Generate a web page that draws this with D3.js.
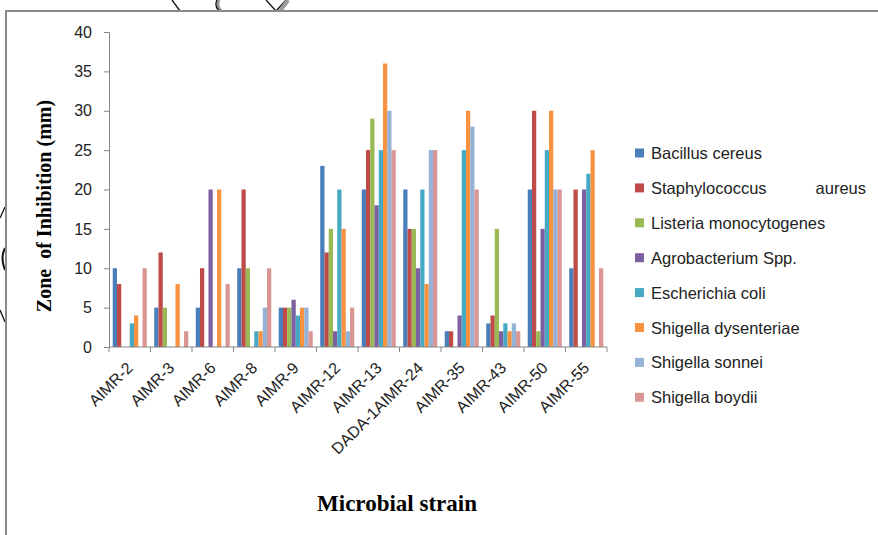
<!DOCTYPE html>
<html>
<head>
<meta charset="utf-8">
<script src="https://cdn.jsdelivr.net/npm/d3@7"></script>
<style>
  body { margin: 0; background: #fff; }
  .tick text { font-family: "Liberation Sans", Arial, sans-serif; font-size: 16px; fill: #222; }
</style>
</head>
<body>
<div id="chart"></div>
<script>
// strains along the x axis
var strains = ["AIMR-2", "AIMR-3", "AIMR-6", "AIMR-8", "AIMR-9", "AIMR-12", "AIMR-13",
               "DADA-1AIMR-24", "AIMR-35", "AIMR-43", "AIMR-50", "AIMR-55"];

// test organisms (legend order)
var organisms = ["Bacillus cereus", "Staphylococcus aureus", "Listeria monocytogenes",
                 "Agrobacterium Spp.", "Escherichia coli", "Shigella dysenteriae",
                 "Shigella sonnei", "Shigella boydii"];

// zone of inhibition (mm), one array per organism, in strain order
var bacillus   = [10, 5, 5, 10, 5, 23, 20, 20, 2, 3, 20, 10];
var staph      = [8, 12, 10, 20, 5, 12, 25, 15, 2, 4, 30, 20];
var listeria   = [0, 5, 0, 10, 5, 15, 29, 15, 0, 15, 2, 0];
var agro       = [0, 0, 20, 0, 6, 2, 18, 10, 4, 2, 15, 20];
var ecoli      = [3, 0, 0, 2, 4, 20, 25, 20, 25, 3, 25, 22];
var dysenteriae = [4, 8, 20, 2, 5, 15, 36, 8, 30, 2, 30, 25];
var sonnei     = [0, 0, 0, 5, 5, 2, 30, 25, 28, 3, 20, 0];
var boydii     = [10, 2, 8, 10, 2, 5, 25, 25, 20, 2, 20, 10];

var yTicks = [0, 5, 10, 15, 20, 25, 30, 35, 40];

var series = [bacillus, staph, listeria, agro, ecoli, dysenteriae, sonnei, boydii];
var colors = ["#4A7EBB", "#BE4B48", "#98B954", "#7D60A0", "#46AAC5", "#F69240", "#95B3D7", "#D99694"];

var svgWidth = 878, svgHeight = 535;
var plot = { left: 109, right: 607, top: 32, bottom: 347 };

var svg = d3.select("#chart").append("svg")
    .attr("width", svgWidth)
    .attr("height", svgHeight);

// bits of the background image poking out round the frame
var deco = svg.append("g").attr("fill", "none").attr("stroke", "#111").attr("stroke-width", 1.3);
deco.append("path").attr("d", "M172,0 L180,11");
deco.append("path").attr("d", "M219,0 Q216,6 221,11").attr("stroke", "#999").attr("stroke-width", 3);
deco.append("path").attr("d", "M217,0 Q214,6 219,11");
deco.append("path").attr("d", "M266,0 L276,11 L286,0");
deco.append("path").attr("d", "M288,0 L280,11").attr("stroke", "#9a9a9a").attr("stroke-width", 4);
deco.append("path").attr("d", "M0,218 L5,207");
deco.append("path").attr("d", "M5,248 Q0,258 5,270").attr("stroke-width", 2);
deco.append("path").attr("d", "M0,310 L5,322");

// frame
svg.append("rect")
    .attr("x", 6).attr("y", 11)
    .attr("width", 880).attr("height", 540)
    .attr("fill", "#fff")
    .attr("stroke", "#8a8a8a")
    .attr("stroke-width", 2);

var x0 = d3.scaleBand()
    .domain(strains)
    .range([plot.left, plot.right])
    .paddingInner(0.18)
    .paddingOuter(0.09);

var x1 = d3.scaleBand()
    .domain(d3.range(organisms.length))
    .range([0, x0.bandwidth()]);

var y = d3.scaleLinear()
    .domain([0, 40])
    .range([plot.bottom, plot.top]);

// bars
var groups = svg.selectAll(".strain")
    .data(strains)
    .enter()
    .append("g")
    .attr("class", "strain")
    .attr("transform", d => `translate(${x0(d)},0)`);

groups.selectAll("rect")
    .data((d, i) => series.map((s, k) => ({ k: k, v: s[i] })))
    .enter()
    .append("rect")
    .attr("x", d => x1(d.k))
    .attr("y", d => y(d.v))
    .attr("width", x1.bandwidth())
    .attr("height", d => y(0) - y(d.v))
    .attr("fill", d => colors[d.k]);

// y axis
var leftAxis = d3.axisLeft(y).tickValues(yTicks).tickSize(5).tickPadding(12);
var gy = svg.append("g")
    .attr("transform", `translate(${plot.left},0)`)
    .call(leftAxis);
gy.selectAll("path, line").attr("stroke", "#868686");

// x axis: ticks sit on the category boundaries
var xEdge = d3.scaleLinear().domain([0, strains.length]).range([plot.left, plot.right]);
var gx = svg.append("g");
gx.append("line")
    .attr("x1", plot.left).attr("x2", plot.right)
    .attr("y1", plot.bottom).attr("y2", plot.bottom)
    .attr("stroke", "#868686");
gx.selectAll(".xt")
    .data(d3.range(strains.length + 1))
    .enter()
    .append("line")
    .attr("x1", d => xEdge(d)).attr("x2", d => xEdge(d))
    .attr("y1", plot.bottom).attr("y2", plot.bottom + 5)
    .attr("stroke", "#868686");
gx.selectAll(".xl")
    .data(strains)
    .enter()
    .append("text")
    .attr("transform", (d, i) => `translate(${xEdge(i + 0.5) + 4},${plot.bottom + 22}) rotate(-45)`)
    .attr("text-anchor", "end")
    .style("font-family", "'Liberation Sans', Arial, sans-serif")
    .style("font-size", "16px")
    .attr("fill", "#222")
    .text(d => d);

// axis titles
svg.append("text")
    .attr("transform", "translate(51,206) rotate(-90)")
    .attr("text-anchor", "middle")
    .style("font-family", "'Liberation Serif', 'Times New Roman', serif")
    .style("font-weight", "bold")
    .style("font-size", "20px")
    .text("Zone  of Inhibition (mm)")
    .attr("xml:space", "preserve");

svg.append("text")
    .attr("x", 397).attr("y", 511)
    .attr("text-anchor", "middle")
    .style("font-family", "'Liberation Serif', 'Times New Roman', serif")
    .style("font-weight", "bold")
    .style("font-size", "23px")
    .text("Microbial strain");

// legend
var legend = svg.selectAll(".legend")
    .data(organisms)
    .enter()
    .append("g")
    .attr("class", "legend")
    .attr("transform", (d, i) => `translate(635,${153 + i * 34.9})`);

legend.append("rect")
    .attr("x", 0).attr("y", -4.5)
    .attr("width", 9).attr("height", 9)
    .attr("fill", (d, i) => colors[i]);

legend.each(function(d) {
    var g = d3.select(this);
    var txt = d.split(" ");
    if (d === "Staphylococcus aureus") { // justified in the original
        g.append("text").attr("x", 16).attr("y", 6).text(txt[0]);
        g.append("text").attr("x", 231).attr("y", 6).attr("text-anchor", "end").text(txt[1]);
    } else {
        g.append("text").attr("x", 16).attr("y", 6).text(d);
    }
});
legend.selectAll("text")
    .style("font-family", "'Liberation Sans', Arial, sans-serif")
    .style("font-size", "16.5px")
    .attr("fill", "#222");
</script>
</body>
</html>
